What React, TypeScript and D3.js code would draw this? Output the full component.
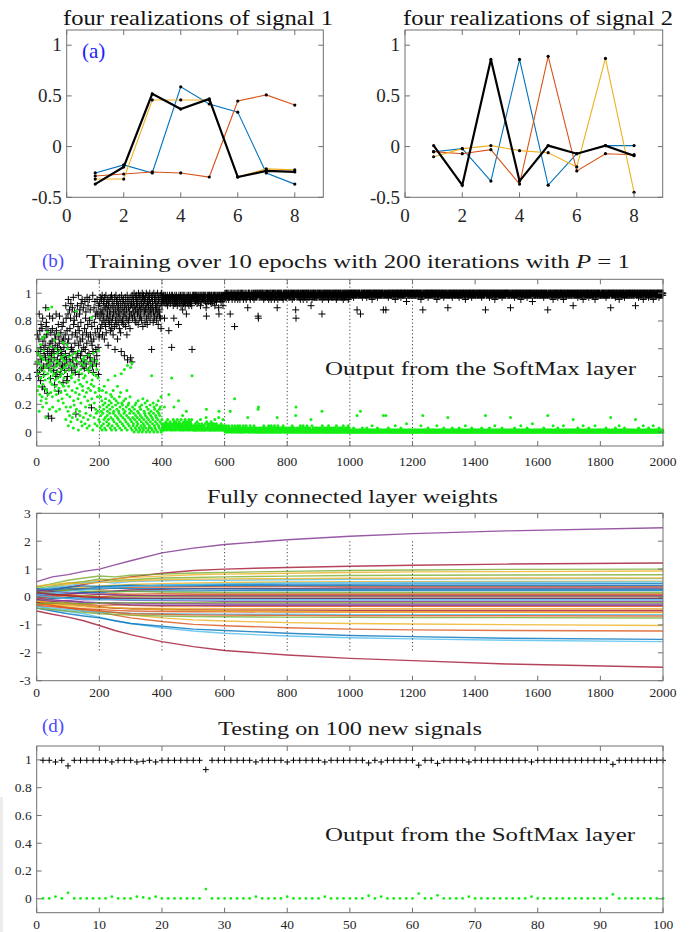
import React from 'react';
import * as d3 from 'd3';

// ---------------- DATA ----------------
// (a) four realizations of two signals
const SIGNAL_X = [1, 2, 3, 4, 5, 6, 7, 8];
const SIG1_BLUE = [-0.26, -0.18, -0.26, 0.59, 0.42, 0.34, -0.26, -0.37];
const SIG1_RED = [-0.29, -0.27, -0.25, -0.26, -0.3, 0.45, 0.51, 0.41];
const SIG1_YELLOW = [-0.32, -0.32, 0.46, 0.46, 0.46, -0.3, -0.22, -0.23];
const SIG1_BLACK = [-0.37, -0.2, 0.52, 0.37, 0.47, -0.3, -0.24, -0.25];
const SIG2_BLUE = [-0.05, -0.02, -0.34, 0.86, -0.38, -0.07, 0.01, 0.01];
const SIG2_RED = [-0.05, -0.07, -0.03, -0.37, 0.89, -0.24, -0.07, -0.08];
const SIG2_YELLOW = [-0.1, -0.02, 0.01, -0.04, -0.06, -0.2, 0.87, -0.45];
const SIG2_BLACK = [0.01, -0.38, 0.86, -0.34, 0.01, -0.07, 0.01, -0.09];
const SIG_X_TICKS = [0, 2, 4, 6, 8];
const SIG_Y_TICKS = [-0.5, 0, 0.5, 1];

// (b) SoftMax output of the true class for each of 2000 training iterations.
// One character per iteration, 100 iterations per string; value = 1 - index*0.015
const CODE_ALPHABET = '0123456789abcdefghijklmnopqrstuvwxyzABCDEFGHIJKLMNOPQRSTUVWXYZ';
const CODE_STEP = 0.015;
const TRAIN_SEGMENTS = [
  'yCkxsEmaBi uGqfwAhJcn zDrtKlpv7g ekyMsiXwAq buoFjxtYnh crzBsvIkpm EaiyCwqtfL lobxDrjuAs gnzHemqvBy kt6cwGiEoa',
  '3mAu8hxc5r qBk7ws2fzd 9oCjWvbyl6 tg1pDia8nu e5xs3mkz7q wAh4rc9yjo 2uf6lBt3dv 8kxnTgpz1s Cm7ew4jbr9 yu3haqD6lk',
  '5c2h8a3f1k 9d4b6m2e7g 1j5c8a3p6d 4f9b2i7e1h 3c6k9a5g2r 8d1f4b7m3e 6a9h2c5j8s 1e4d7b3f9u 6a2g5c8k1w 4d7e3b9h6v',
  '2a5x1c7349 0b6d28e153 7a4f0926c1 8b35d702g4 16a39e8250 c7f41b6293 0d58a2r714 6e90c3b258 17d4a06f39 2b85c1h046',
  '2314213c43 1253421624 3i21352431 q231462c53 1425314263 42f1532412 6331482152 3416352a31 4253162341 52436r1232',
  '1213214123 1523124132 2163124123 2131321241 7b52132412 3121425131 2432124161 3214321231 7a31213241 2231621312',
  '1021301120 2130121a10 2103120112 0g31201210 1302102130 1201021013 2011201231 0217100120 1321011021 2013012102',
  '012010bc02 1020102101 0201302101 2010120210 3120102031 0201201030 1201021703 2010201201 0201213021 0102010201',
  '1020101201 0201030120 1020108c10 2010201021 0302010201 3010201020 1030102010 1201060130 1020102010 2012010201',
  '0102010201 a301020102 0102010201 0301020101 2010201020 1020103010 2010201020 1021020130 1020102010 2010302010',
  '0101001010 0201001010 1080100101 001a100102 0100100101 0102001010 0101001010 3010010100 1010010201 0010100101',
  '0100108100 1010810101 0020100101 0010100101 0010301001 0100100101 0020010100 1010010010 4010010100 1010010100',
  '1001010010 1001001010 0100103010 0181001010 0101001002 0100101001 0010100101 0010100301 0010100101 0010100102',
  '0101001010 0170100101 0010102010 0101001010 0101001020 1001010010 1001010030 1001010010 1001001020 1001010010',
  '1010010100 1010010100 2010010100 1080010100 1010020100 1010010100 1030100101 0010100100 1010020100 1010010100',
  '0100101001 0170010100 1010020100 1010010100 1010030100 1010010100 1010020100 1010010100 1040100101 0010100101',
  '1001010010 1001010020 1001010010 1801001010 0101001030 1001010010 1002010010 1001001010 0301001010 0101001010',
  '0101001010 0160100101 0010100201 0010100101 0010300101 0010100101 0020100101 0010100101 0030100101 0010100101',
  '1010010100 1010010201 0010100101 0070100101 0010100201 0010100103 0100101001 0100102010 0101001010 0101001010',
  '0100101001 0600101001 0201001010 0101003010 0101001010 0102010010 1001010030 1001010010 1001002010 0101001010',
];
const ITER_TICKS = [0, 200, 400, 600, 800, 1000, 1200, 1400, 1600, 1800, 2000];
const EPOCH_MARKS = [200, 400, 600, 800, 1000, 1200];
const PROB_TICKS = [0, 0.2, 0.4, 0.6, 0.8, 1];

// (c) fully connected layer weights, values at checkpoint iterations
const WEIGHT_ITERS = [0, 50, 100, 150, 200, 250, 300, 400, 500, 600, 800, 1000, 1200, 1500, 2000];
const WEIGHT_LINES = [
  [0.55, 0.72, 0.8, 0.92, 1.0, 1.15, 1.3, 1.58, 1.75, 1.88, 2.05, 2.18, 2.27, 2.37, 2.48],
  [-0.5, -0.62, -0.72, -0.85, -1.02, -1.2, -1.35, -1.6, -1.78, -1.92, -2.08, -2.2, -2.28, -2.4, -2.52],
  [0.1, 0.25, 0.35, 0.45, 0.55, 0.65, 0.72, 0.85, 0.95, 1.0, 1.06, 1.1, 1.14, 1.18, 1.22],
  [-0.3, -0.45, -0.52, -0.6, -0.72, -0.85, -0.95, -1.1, -1.22, -1.3, -1.4, -1.46, -1.5, -1.55, -1.6],
  [-0.4, -0.5, -0.6, -0.68, -0.75, -0.85, -0.95, -1.05, -1.15, -1.2, -1.3, -1.38, -1.42, -1.48, -1.52],
  [-0.2, -0.3, -0.4, -0.5, -0.55, -0.65, -0.75, -0.88, -0.98, -1.03, -1.1, -1.15, -1.18, -1.2, -1.22],
  [-0.1, -0.25, -0.35, -0.45, -0.5, -0.55, -0.65, -0.75, -0.82, -0.86, -0.92, -0.95, -0.97, -0.99, -1.02],
  [0.35, 0.48, 0.6, 0.68, 0.75, 0.72, 0.78, 0.82, 0.86, 0.88, 0.92, 0.95, 0.97, 0.99, 1.0],
  [0.2, 0.35, 0.45, 0.55, 0.6, 0.65, 0.7, 0.75, 0.8, 0.82, 0.85, 0.88, 0.9, 0.91, 0.93],
  [0.3, 0.4, 0.5, 0.55, 0.65, 0.6, 0.62, 0.68, 0.7, 0.72, 0.75, 0.77, 0.78, 0.79, 0.8],
  [0.25, 0.35, 0.4, 0.5, 0.55, 0.5, 0.55, 0.58, 0.6, 0.6, 0.62, 0.63, 0.64, 0.65, 0.66],
  [0.15, 0.2, 0.3, 0.35, 0.4, 0.42, 0.45, 0.48, 0.5, 0.52, 0.54, 0.55, 0.55, 0.56, 0.57],
  [0.1, 0.2, 0.25, 0.3, 0.35, 0.38, 0.4, 0.42, 0.44, 0.45, 0.46, 0.46, 0.47, 0.47, 0.48],
  [0.2, 0.15, 0.25, 0.3, 0.28, 0.32, 0.35, 0.36, 0.37, 0.37, 0.38, 0.38, 0.38, 0.38, 0.38],
  [-0.1, 0.05, 0.1, 0.15, 0.2, 0.22, 0.25, 0.28, 0.3, 0.3, 0.31, 0.32, 0.32, 0.32, 0.32],
  [0.05, 0.1, 0.12, 0.18, 0.15, 0.2, 0.2, 0.22, 0.22, 0.23, 0.23, 0.23, 0.23, 0.23, 0.23],
  [0.0, 0.05, 0.08, 0.05, 0.1, 0.12, 0.1, 0.12, 0.11, 0.11, 0.11, 0.11, 0.11, 0.11, 0.11],
  [-0.15, -0.05, 0.0, 0.05, 0.02, 0.0, 0.03, 0.02, 0.02, 0.02, 0.02, 0.02, 0.02, 0.02, 0.02],
  [0.1, 0.0, -0.05, -0.1, -0.08, -0.1, -0.12, -0.13, -0.14, -0.15, -0.15, -0.15, -0.15, -0.15, -0.15],
  [-0.05, -0.1, -0.15, -0.2, -0.22, -0.2, -0.22, -0.24, -0.24, -0.25, -0.25, -0.25, -0.25, -0.25, -0.25],
  [-0.2, -0.15, -0.2, -0.25, -0.3, -0.28, -0.3, -0.32, -0.32, -0.33, -0.33, -0.33, -0.33, -0.33, -0.33],
  [-0.3, -0.25, -0.3, -0.35, -0.38, -0.4, -0.4, -0.41, -0.41, -0.42, -0.42, -0.42, -0.42, -0.42, -0.42],
  [-0.25, -0.3, -0.38, -0.42, -0.45, -0.48, -0.5, -0.52, -0.53, -0.53, -0.54, -0.54, -0.54, -0.54, -0.54],
  [-0.35, -0.4, -0.45, -0.5, -0.55, -0.55, -0.58, -0.6, -0.61, -0.62, -0.62, -0.63, -0.63, -0.63, -0.63],
  [-0.4, -0.45, -0.5, -0.55, -0.6, -0.62, -0.65, -0.68, -0.7, -0.71, -0.72, -0.73, -0.74, -0.74, -0.75],
  [0.0, -0.05, -0.02, -0.05, -0.06, -0.05, -0.06, -0.06, -0.06, -0.06, -0.06, -0.06, -0.06, -0.06, -0.06],
  [0.3, 0.25, 0.3, 0.28, 0.3, 0.32, 0.3, 0.3, 0.29, 0.29, 0.28, 0.28, 0.28, 0.28, 0.28],
  [-0.05, 0.0, 0.05, 0.02, 0.0, 0.05, 0.06, 0.06, 0.07, 0.07, 0.07, 0.07, 0.07, 0.07, 0.07],
  [0.4, 0.45, 0.5, 0.48, 0.52, 0.55, 0.58, 0.62, 0.64, 0.65, 0.66, 0.67, 0.67, 0.68, 0.68],
  [-0.1, -0.15, -0.12, -0.18, -0.2, -0.25, -0.28, -0.3, -0.3, -0.3, -0.3, -0.3, -0.3, -0.3, -0.3],
  [0.15, 0.2, 0.25, 0.2, 0.22, 0.18, 0.2, 0.18, 0.17, 0.16, 0.16, 0.16, 0.16, 0.16, 0.16],
  [0.05, 0.0, -0.05, -0.08, -0.1, -0.08, -0.1, -0.1, -0.1, -0.1, -0.1, -0.1, -0.1, -0.1, -0.1],
  [-0.2, -0.22, -0.25, -0.3, -0.35, -0.4, -0.42, -0.45, -0.46, -0.47, -0.47, -0.48, -0.48, -0.48, -0.48],
  [0.2, 0.3, 0.35, 0.4, 0.38, 0.4, 0.42, 0.4, 0.4, 0.41, 0.41, 0.41, 0.41, 0.41, 0.41],
  [-0.3, -0.35, -0.4, -0.45, -0.5, -0.55, -0.6, -0.62, -0.64, -0.65, -0.66, -0.67, -0.67, -0.67, -0.68],
  [-0.15, -0.2, -0.25, -0.3, -0.35, -0.38, -0.42, -0.45, -0.48, -0.5, -0.52, -0.53, -0.54, -0.55, -0.56],
  [0.25, 0.2, 0.15, 0.12, 0.1, 0.08, 0.06, 0.05, 0.04, 0.04, 0.04, 0.04, 0.04, 0.04, 0.04],
  [-0.25, -0.2, -0.22, -0.25, -0.2, -0.22, -0.2, -0.2, -0.2, -0.2, -0.2, -0.2, -0.2, -0.2, -0.2],
  [0.1, 0.15, 0.2, 0.25, 0.3, 0.35, 0.38, 0.42, 0.45, 0.47, 0.5, 0.51, 0.52, 0.53, 0.54],
  [0.15, 0.1, 0.05, 0.0, -0.02, -0.04, -0.03, -0.04, -0.04, -0.04, -0.04, -0.04, -0.04, -0.04, -0.04],
];
const WEIGHT_COLOR_INDEX = [3, 6, 6, 5, 0, 1, 2, 4, 2, 4, 5, 2, 0, 1, 6, 0, 1, 4, 3, 3, 1, 2, 1, 5, 4, 0, 0, 1, 2, 3, 4, 5, 6, 0, 1, 2, 3, 4, 5, 6];
const WEIGHT_Y_TICKS = [-3, -2, -1, 0, 1, 2, 3];

// (d) testing on 100 new signals
const TEST_X = d3.range(1, 101);
const TEST_P1 = [
  0.997, 0.997, 0.985, 0.997, 0.957, 0.997, 0.997, 0.997, 0.997, 0.997,
  0.997, 0.985, 0.997, 0.997, 0.997, 0.985, 0.99, 0.997, 0.985, 0.997,
  0.997, 0.997, 0.997, 0.997, 0.997, 0.997, 0.93, 0.997, 0.997, 0.997,
  0.997, 0.997, 0.997, 0.997, 0.985, 0.997, 0.997, 0.997, 0.997, 0.985,
  0.997, 0.997, 0.997, 0.997, 0.997, 0.985, 0.997, 0.997, 0.997, 0.997,
  0.997, 0.997, 0.978, 0.997, 0.985, 0.997, 0.997, 0.997, 0.997, 0.997,
  0.962, 0.997, 0.997, 0.975, 0.997, 0.997, 0.997, 0.997, 0.985, 0.997,
  0.997, 0.997, 0.997, 0.997, 0.997, 0.997, 0.997, 0.997, 0.985, 0.997,
  0.997, 0.997, 0.997, 0.997, 0.997, 0.997, 0.997, 0.997, 0.997, 0.997,
  0.997, 0.968, 0.997, 0.997, 0.997, 0.997, 0.997, 0.997, 0.997, 0.997,
];
const TEST_P2 = [
  0.003, 0.003, 0.015, 0.003, 0.043, 0.003, 0.003, 0.003, 0.003, 0.003,
  0.003, 0.015, 0.003, 0.003, 0.003, 0.015, 0.01, 0.003, 0.015, 0.003,
  0.003, 0.003, 0.003, 0.003, 0.003, 0.003, 0.07, 0.003, 0.003, 0.003,
  0.003, 0.003, 0.003, 0.003, 0.015, 0.003, 0.003, 0.003, 0.003, 0.015,
  0.003, 0.003, 0.003, 0.003, 0.003, 0.015, 0.003, 0.003, 0.003, 0.003,
  0.003, 0.003, 0.022, 0.003, 0.015, 0.003, 0.003, 0.003, 0.003, 0.003,
  0.038, 0.003, 0.003, 0.025, 0.003, 0.003, 0.003, 0.003, 0.015, 0.003,
  0.003, 0.003, 0.003, 0.003, 0.003, 0.003, 0.003, 0.003, 0.015, 0.003,
  0.003, 0.003, 0.003, 0.003, 0.003, 0.003, 0.003, 0.003, 0.003, 0.003,
  0.003, 0.032, 0.003, 0.003, 0.003, 0.003, 0.003, 0.003, 0.003, 0.003,
];
const TEST_X_TICKS = [0, 10, 20, 30, 40, 50, 60, 70, 80, 90, 100];

// ---------------- STYLE ----------------
const MATLAB = ['#0072BD', '#D95319', '#EDB120', '#7E2F8E', '#77AC30', '#4DBEEE', '#A2142F'];
const FONT = '"Liberation Serif", "DejaVu Serif", serif';
const AX = '#707070';
const TXT = '#262626';
const GREEN = '#14ee14';

function decodeTraining() {
  const pts: { it: number; p1: number; p2: number }[] = [];
  TRAIN_SEGMENTS.forEach((s, seg) => {
    s.replace(/\s/g, '').split('').forEach((c, j) => {
      const k = CODE_ALPHABET.indexOf(c);
      if (k < 0) return;
      const p1 = 1 - k * CODE_STEP;
      pts.push({ it: seg * 100 + j + 1, p1, p2: 1 - p1 });
    });
  });
  return pts;
}

function plusPath(pts: [number, number][], h: number) {
  return pts.map(([x, y]) => `M${x - h},${y}H${x + h}M${x},${y - h}V${y + h}`).join('');
}

type FrameProps = {
  xs: d3.ScaleLinear<number, number>;
  ys: d3.ScaleLinear<number, number>;
  xTicks: number[];
  yTicks: number[];
  fs: number;
  xLabY: number;
  yLabGap: number;
};

function Frame({ xs, ys, xTicks, yTicks, fs, xLabY, yLabGap }: FrameProps) {
  const [x0, x1] = xs.range();
  const [y1, y0] = ys.range();
  const tl = 5;
  return (
    <g>
      <rect x={x0} y={y0} width={x1 - x0} height={y1 - y0} fill="none" stroke={AX} strokeWidth={1} />
      {xTicks.map((t) => (
        <g key={'x' + t}>
          <line x1={xs(t)} x2={xs(t)} y1={y1} y2={y1 - tl} stroke={AX} />
          <line x1={xs(t)} x2={xs(t)} y1={y0} y2={y0 + tl} stroke={AX} />
          <text x={xs(t)} y={xLabY} textAnchor="middle" fontSize={fs} fontFamily={FONT} fill={TXT}>
            {String(t)}
          </text>
        </g>
      ))}
      {yTicks.map((t) => (
        <g key={'y' + t}>
          <line x1={x0} x2={x0 + tl} y1={ys(t)} y2={ys(t)} stroke={AX} />
          <line x1={x1} x2={x1 - tl} y1={ys(t)} y2={ys(t)} stroke={AX} />
          <text x={x0 - yLabGap} y={ys(t) + fs * 0.33} textAnchor="end" fontSize={fs} fontFamily={FONT} fill={TXT}>
            {String(t)}
          </text>
        </g>
      ))}
    </g>
  );
}

function SignalPanel({ left, right, series, title, titleX, label }: any) {
  const xs = d3.scaleLinear().domain([0, 9]).range([left, right]);
  const ys = d3.scaleLinear().domain([-0.5, 1.15]).range([197.3, 30]);
  const line = d3.line<number>().x((_, i) => xs(SIGNAL_X[i])).y((d) => ys(d));
  const colors = [MATLAB[0], MATLAB[1], MATLAB[2], '#000000'];
  return (
    <g>
      <text x={titleX} y={25} textAnchor="middle" fontSize={21} fontFamily={FONT} fill="#111" textLength={270} lengthAdjust="spacingAndGlyphs">
        {title}
      </text>
      {series.map((s: number[], k: number) => (
        <path key={k} d={line(s) || ''} fill="none" stroke={colors[k]} strokeWidth={k === 3 ? 2.2 : 1.1} />
      ))}
      {series.map((s: number[], k: number) =>
        s.map((v, i) => <circle key={k + '-' + i} cx={xs(SIGNAL_X[i])} cy={ys(v)} r={1.6} fill="#000" />)
      )}
      <Frame xs={xs} ys={ys} xTicks={SIG_X_TICKS} yTicks={SIG_Y_TICKS} fs={19} xLabY={222} yLabGap={5} />
      {label}
    </g>
  );
}

export default function App() {
  const L = 36.7;
  const R = 663;
  // (b)
  const xb = d3.scaleLinear().domain([0, 2000]).range([L, R]);
  const yb = d3.scaleLinear().domain([-0.1, 1.1]).range([446, 279.3]);
  const train = decodeTraining();
  const trainPlus = plusPath(train.map((p) => [xb(p.it), yb(p.p1)] as [number, number]), 3.5);
  // (c)
  const yc = d3.scaleLinear().domain([-3, 3]).range([680.7, 513.3]);
  const wline = d3.line<number>().x((_, i) => xb(WEIGHT_ITERS[i])).y((d) => yc(d));
  // (d)
  const xd = d3.scaleLinear().domain([0, 100]).range([L, R]);
  const yd = d3.scaleLinear().domain([-0.1, 1.1]).range([912.7, 746]);
  const testPlus = plusPath(TEST_X.map((x, i) => [xd(x), yd(TEST_P1[i])] as [number, number]), 3);

  return (
    <svg width={694} height={932} style={{ position: 'absolute', left: 0, top: 0, background: '#fff' }}>
      <rect x={0} y={0} width={694} height={932} fill="#fff" />
      {/* (a) */}
      <SignalPanel
        left={66.7}
        right={323.3}
        series={[SIG1_BLUE, SIG1_RED, SIG1_YELLOW, SIG1_BLACK]}
        title="four realizations of signal 1"
        titleX={198}
        label={
          <text x={82} y={58} fontSize={21} fontFamily={FONT} fill="#1c1cff">
            (a)
          </text>
        }
      />
      <SignalPanel
        left={405}
        right={662.7}
        series={[SIG2_BLUE, SIG2_RED, SIG2_YELLOW, SIG2_BLACK]}
        title="four realizations of signal 2"
        titleX={538}
        label={null}
      />

      {/* (b) */}
      <text x={42} y={267} fontSize={19} fontFamily={FONT} fill="#4848ff">(b)</text>
      <text x={86} y={268} fontSize={18.5} fontFamily={FONT} fill="#1a1a1a" textLength={544} lengthAdjust="spacingAndGlyphs">
        Training over 10 epochs with 200 iterations with <tspan fontStyle="italic">P</tspan> = 1
      </text>
      {EPOCH_MARKS.map((m) => (
        <line key={m} x1={xb(m)} x2={xb(m)} y1={279.3} y2={446} stroke="#444" strokeDasharray="1.2,2.4" />
      ))}
      <path d={trainPlus} stroke="#000" strokeWidth={1} fill="none" />
      {train.map((p, i) => (
        <circle key={i} cx={xb(p.it)} cy={yb(p.p2)} r={1.5} fill={GREEN} />
      ))}
      <text x={325} y={375} fontSize={19} fontFamily={FONT} fill="#1a1a1a" textLength={311} lengthAdjust="spacingAndGlyphs">
        Output from the SoftMax layer
      </text>
      <Frame xs={xb} ys={yb} xTicks={ITER_TICKS} yTicks={PROB_TICKS} fs={13.5} xLabY={466} yLabGap={5} />

      {/* (c) */}
      <text x={42} y={501} fontSize={19} fontFamily={FONT} fill="#4848ff">(c)</text>
      <text x={207} y={503} fontSize={19} fontFamily={FONT} fill="#1a1a1a" textLength={291} lengthAdjust="spacingAndGlyphs">
        Fully connected layer weights
      </text>
      {WEIGHT_LINES.map((w, k) => (
        <path key={k} d={wline(w) || ''} fill="none" stroke={MATLAB[WEIGHT_COLOR_INDEX[k]]} strokeWidth={1.4} strokeOpacity={0.8} />
      ))}
      {EPOCH_MARKS.map((m) => (
        <line key={m} x1={xb(m)} x2={xb(m)} y1={yc(2)} y2={yc(-2)} stroke="#444" strokeDasharray="1.2,2.4" />
      ))}
      <Frame xs={xb} ys={yc} xTicks={ITER_TICKS} yTicks={WEIGHT_Y_TICKS} fs={13.5} xLabY={697} yLabGap={6} />

      {/* (d) */}
      <rect x={0} y={797} width={3} height={135} fill="#ececec" />
      <text x={42} y={732} fontSize={19} fontFamily={FONT} fill="#4848ff">(d)</text>
      <text x={218} y={735} fontSize={19} fontFamily={FONT} fill="#1a1a1a" textLength={264} lengthAdjust="spacingAndGlyphs">
        Testing on 100 new signals
      </text>
      <path d={testPlus} stroke="#000" strokeWidth={1} fill="none" />
      {TEST_X.map((x, i) => (
        <circle key={i} cx={xd(x)} cy={yd(TEST_P2[i])} r={1.4} fill={GREEN} />
      ))}
      <text x={325} y={841} fontSize={19} fontFamily={FONT} fill="#1a1a1a" textLength={310} lengthAdjust="spacingAndGlyphs">
        Output from the SoftMax layer
      </text>
      <Frame xs={xd} ys={yd} xTicks={TEST_X_TICKS} yTicks={PROB_TICKS} fs={13.5} xLabY={929} yLabGap={5} />
    </svg>
  );
}
